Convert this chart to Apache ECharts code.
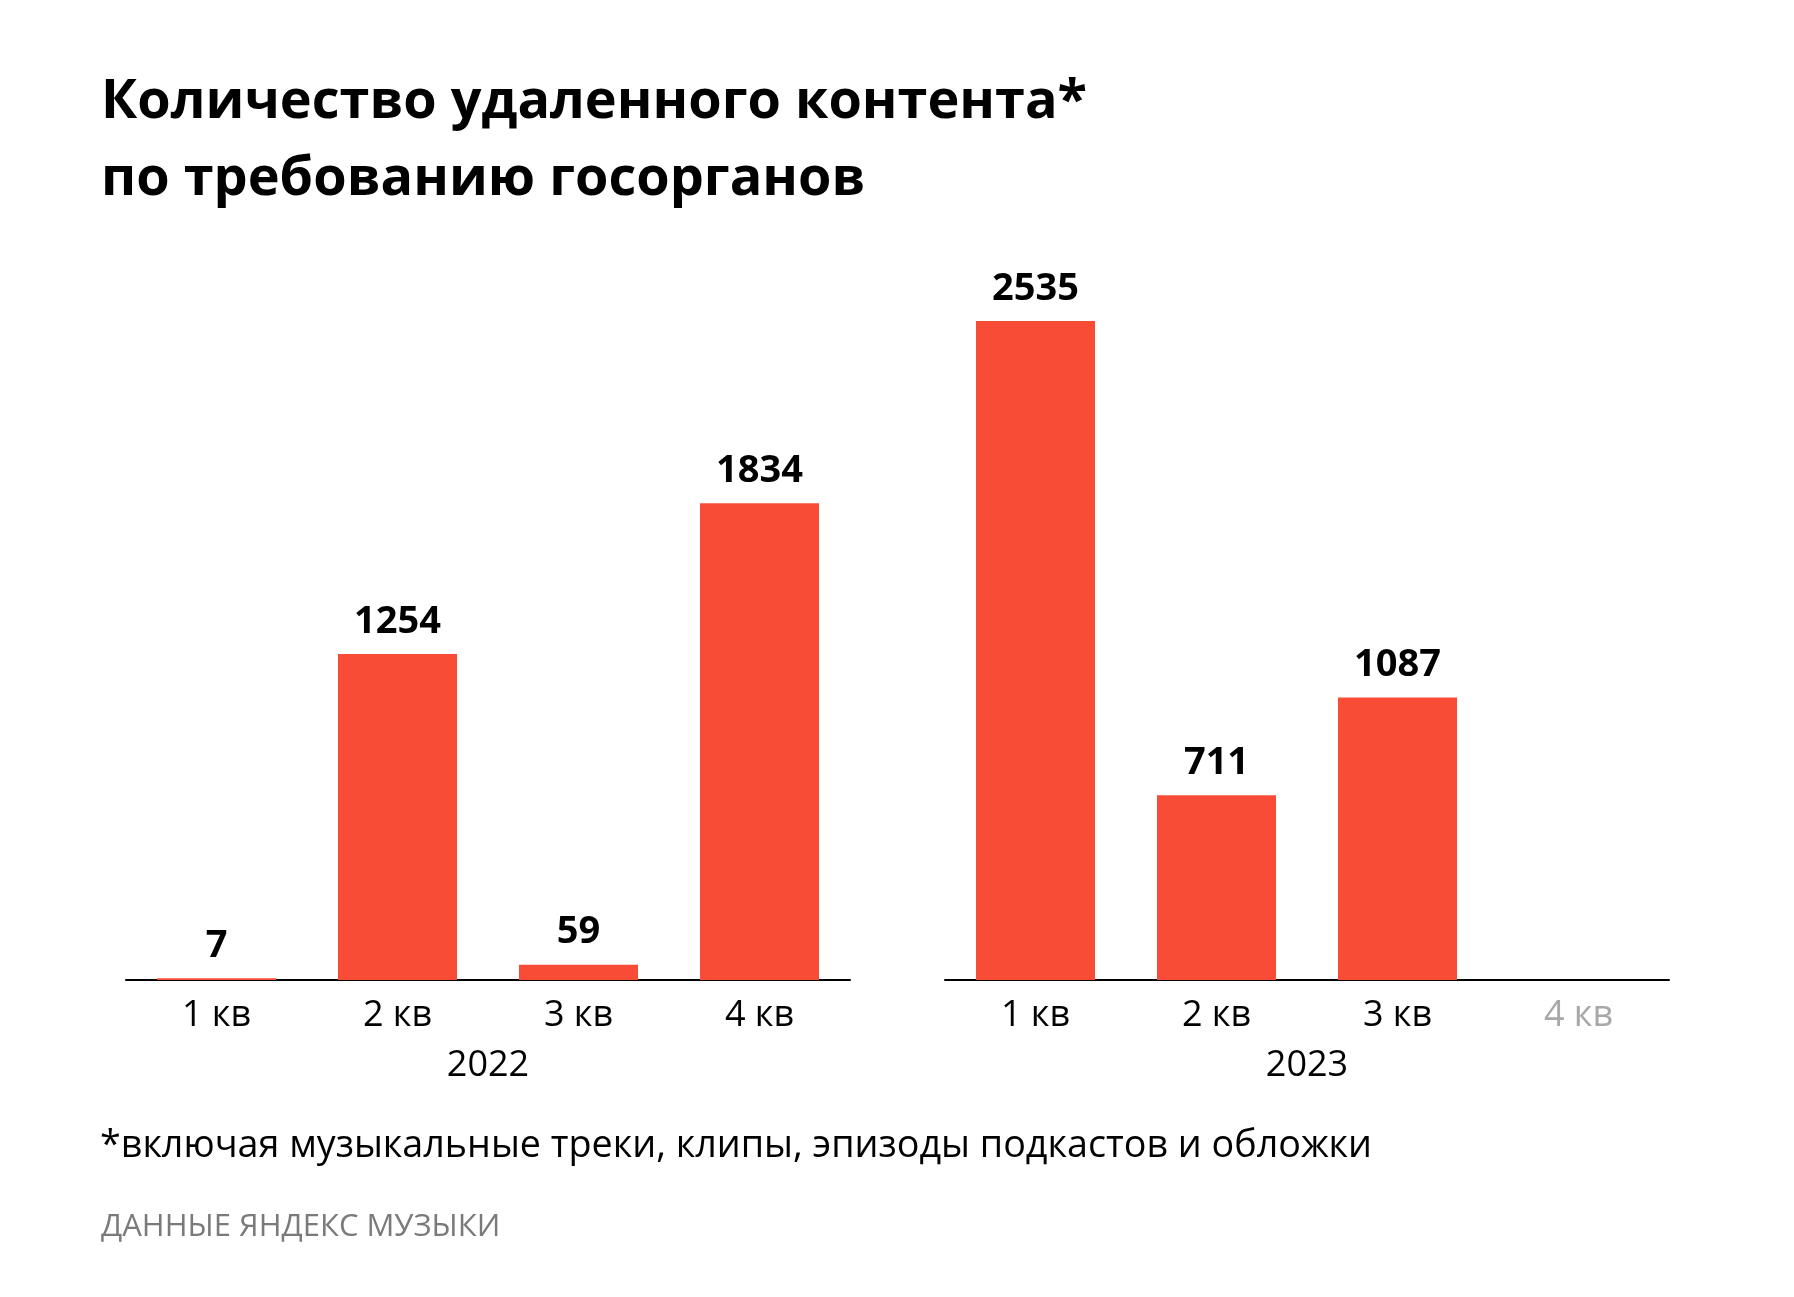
<!DOCTYPE html>
<html>
<head>
<meta charset="utf-8">
<script src="https://cdn.jsdelivr.net/npm/echarts@6/dist/echarts.min.js"></script>
<style>
  html, body { margin: 0; padding: 0; background: #fff; }
  #chart { width: 1794px; height: 1297px; }
</style>
</head>
<body>
<div id="chart"></div>
<script>
// данные
var quarters = ['1 кв', '2 кв', '3 кв', '4 кв'];
var years = ['2022', '2023'];
var values2022 = [7, 1254, 59, 1834];
var values2023 = [2535, 711, 1087, null];

var FONT = 'Open Sans';
var BAR_COLOR = '#f94c37';

function quarterAxis(gridIndex, year, greyLast) {
    return {
        type: 'category',
        gridIndex: gridIndex,
        data: quarters,
        name: year,
        nameLocation: 'middle',
        nameGap: 68,
        nameTextStyle: { color: '#000', fontSize: 36, fontFamily: FONT },
        axisLine: { lineStyle: { color: '#000', width: 2 } },
        axisTick: { show: false },
        axisLabel: {
            margin: 18,
            fontSize: 36,
            fontFamily: FONT,
            color: function (value, index) {
                return (greyLast && index === 3) ? '#a8a8a8' : '#000';
            }
        }
    };
}

function valueAxis(gridIndex) {
    return {
        type: 'value',
        gridIndex: gridIndex,
        min: 0,
        max: 3000,
        show: false,
        splitLine: { show: false }
    };
}

function barSeries(index, data) {
    return {
        type: 'bar',
        xAxisIndex: index,
        yAxisIndex: index,
        data: data,
        barWidth: 119,
        itemStyle: { color: BAR_COLOR },
        label: {
            show: true,
            position: 'top',
            distance: 13,
            color: '#000',
            fontSize: 38,
            fontWeight: 'bold',
            fontFamily: FONT
        },
        silent: true
    };
}

var option = {
    backgroundColor: '#fff',
    animation: false,
    title: {
        text: 'Количество удаленного контента*\nпо требованию госорганов',
        left: 96,
        top: 59,
        textStyle: {
            color: '#000',
            fontSize: 54,
            fontWeight: 'bold',
            fontFamily: FONT,
            lineHeight: 77
        }
    },
    grid: [
        { left: 126, width: 724, top: 200, height: 780 },
        { left: 945, width: 724, top: 200, height: 780 }
    ],
    xAxis: [
        quarterAxis(0, years[0], false),
        quarterAxis(1, years[1], true)
    ],
    yAxis: [valueAxis(0), valueAxis(1)],
    series: [
        barSeries(0, values2022),
        barSeries(1, values2023)
    ],
    graphic: [
        {
            type: 'text',
            left: 100,
            top: 1127,
            style: {
                text: '*включая музыкальные треки, клипы, эпизоды подкастов и обложки',
                fill: '#000',
                fontSize: 37.7,
                fontFamily: FONT
            }
        },
        {
            type: 'text',
            left: 101,
            top: 1212,
            style: {
                text: 'ДАННЫЕ ЯНДЕКС МУЗЫКИ',
                fill: '#7a7a7a',
                fontSize: 31,
                fontFamily: FONT
            }
        }
    ]
};

var myChart = echarts.init(document.getElementById('chart'));
myChart.setOption(option);
</script>
</body>
</html>
